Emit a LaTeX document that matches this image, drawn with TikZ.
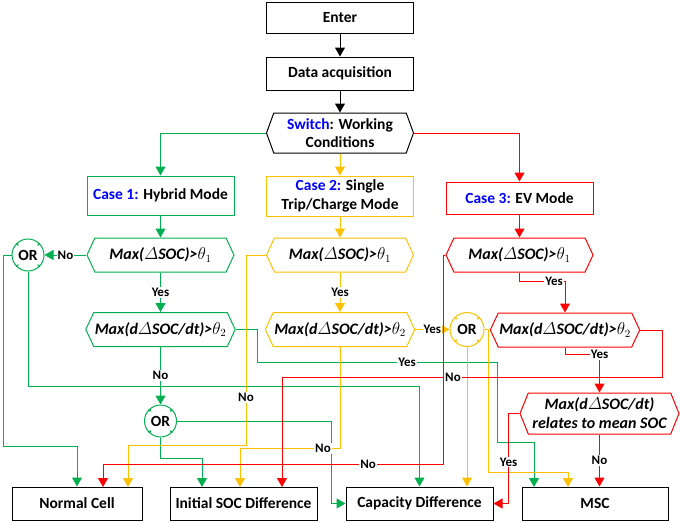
\documentclass[tikz,border=0pt]{standalone}
\usepackage{amsmath}
\usepackage{fontspec}
\setmainfont{Carlito}
\usetikzlibrary{arrows.meta,shapes.symbols,calc}

\definecolor{cgreen}{RGB}{0,176,80}
\definecolor{cyellow}{RGB}{255,192,0}
\definecolor{cred}{RGB}{255,0,0}
\definecolor{cblue}{RGB}{0,0,255}

\tikzset{
	box/.style={draw, line width=1pt, rectangle, minimum width=147pt, minimum height=31pt, inner sep=1pt, align=center, font=\fontsize{15.5}{18.5}\selectfont\bfseries},
	hexa/.style={draw, line width=1pt, signal, signal to=west and east, signal pointer angle=130, minimum width=147pt, minimum height=34pt, inner sep=1pt, align=center, font=\fontsize{16}{19}\selectfont\bfseries\itshape},
	orc/.style={draw, line width=1pt, circle, minimum size=32pt, inner sep=0pt, font=\fontsize{15.5}{18}\selectfont\bfseries},
	lbl/.style={fill=white, text=black, inner sep=1pt, font=\fontsize{13}{15}\selectfont\bfseries},
	arr/.style={line width=1pt, -{Triangle[length=9pt,width=10pt]}},
	bline/.style={arr, black},
	gline/.style={arr, cgreen},
	yline/.style={arr, cyellow},
	rline/.style={arr, cred},
}

\begin{document}
\begin{tikzpicture}[x=1pt, y=-1pt]
	%%%%% START %%%%%
	\useasboundingbox (0,0) rectangle (680,522);
	
	\node[box] (ent) at (340,17.5) {Enter};
	\node[box, minimum height=33pt] (daq) at (340,73.5) {Data acquisition};
	\node[hexa, minimum height=40pt, signal pointer angle=140, font=\fontsize{15.5}{18.5}\selectfont\bfseries] (sw) at (340,133) {\textcolor{cblue}{Switch}: Working\\Conditions};
	
	\node[box, draw=cgreen, minimum height=39pt] (c1) at (160.5,195.5) {\textcolor{cblue}{Case 1:} Hybrid Mode};
	\node[box, draw=cyellow, minimum height=40pt] (c2) at (340,196) {\textcolor{cblue}{Case 2:} Single\\Trip/Charge Mode};
	\node[box, draw=cred, minimum height=32pt] (c3) at (519.5,198) {\textcolor{cblue}{Case 3:} EV Mode};
	
	\node[hexa, draw=cgreen] (g1) at (160.5,255) {Max($\varDelta$SOC)>$\theta_1$};
	\node[hexa, draw=cyellow] (y1) at (340,255) {Max($\varDelta$SOC)>$\theta_1$};
	\node[hexa, draw=cred] (r1) at (519.5,255) {Max($\varDelta$SOC)>$\theta_1$};
	
	\node[hexa, draw=cgreen] (g2) at (160.5,329.5) {Max(d$\varDelta$SOC/dt)>$\theta_2$};
	\node[hexa, draw=cyellow] (y2) at (340,329.5) {Max(d$\varDelta$SOC/dt)>$\theta_2$};
	\node[hexa, draw=cred] (r2) at (565,330) {Max(d$\varDelta$SOC/dt)>$\theta_2$};
	\node[hexa, draw=cred, minimum width=159pt, minimum height=41pt, signal pointer angle=136] (r3) at (599.5,413.5) {Max(d$\varDelta$SOC/dt)\\relates to mean SOC};
	
	\node[orc, draw=cgreen] (or1) at (28,255) {OR};
	\node[orc, draw=cgreen] (or2) at (160.5,421) {OR};
	\node[orc, draw=cyellow, minimum size=34pt] (yor) at (467,329.5) {OR};
	\foreach \n/\c in {or1/cgreen,or2/cgreen,yor/cyellow}
		\foreach \a in {45,135,225,315}
			\draw[\c, line width=0.6pt, -{Triangle[length=2.5pt,width=2.5pt]}] (\n.\a) -- ($(\n.center)!0.8!(\n.\a)$);
	
	\node[box, minimum width=130pt, minimum height=33pt] (nc) at (77,503.5) {Normal Cell};
	\node[box, minimum height=33pt] (isd) at (243.5,503.5) {Initial SOC Difference};
	\node[box, minimum height=33pt] (cd) at (419.5,503.5) {Capacity Difference};
	\node[box, minimum width=146pt, minimum height=33pt] (msc) at (595,503.5) {MSC};
	
	\coordinate (nc-r) at (103,487);
	\coordinate (nc-y) at (128,487);
	\coordinate (isd-g) at (202,487);
	\coordinate (isd-y) at (240,487);
	\coordinate (isd-r) at (282,487);
	\coordinate (msc-g) at (534,487);
	\coordinate (msc-y) at (568,487);
	
	% main flow
	\draw[bline] (ent.south) -- (daq.north);
	\draw[bline] (daq.south) -- (sw.north);
	\draw[gline] (sw.west) -| (c1.north);
	\draw[yline] (sw.south) -- (c2.north);
	\draw[rline] (sw.east) -| (c3.north);
	
	% case 1
	\draw[gline] (c1.south) -- (g1.north);
	\draw[gline] (g1.west) -- node[lbl]{No} (or1.east);
	\draw[gline] (g1.south) -- node[lbl]{Yes} (g2.north);
	\draw[gline] (or1.west) -| (3,446) -| (nc.north);
	\draw[gline] (or1.south) |- (419.5,386.5) -- (cd.north);
	\draw[gline] (g2.south) -- node[lbl]{No} (or2.north);
	\draw[gline] (g2.east) -| (257,362) -- node[lbl,pos=.625]{Yes} (497,362) |- (534,442) -- (msc-g);
	\draw[gline] (or2.east) -| ($(cd.west)+(-14,0)$) -- (cd.west);
	\draw[gline] (or2.south) -- ++(0,21) -| (isd-g);
	
	% case 2
	\draw[yline] (c2.south) -- (y1.north);
	\draw[yline] (y1.south) -- node[lbl]{Yes} (y2.north);
	\draw[yline] (y1.west) -| node[lbl,pos=.875]{No} (246,445) -| (nc-y);
	\draw[yline] (y2.south) -- (340,448.5) -- node[lbl,pos=.17]{No} (240,448.5) -- (isd-y);
	\draw[yline] (y2.east) -- node[lbl]{Yes} (yor.west);
	\draw[yline] (yor.south) -- (yor.south |- cd.north);
	\draw[yline] (yor.east) -| (488,472) -| (msc-y);
	
	% case 3
	\draw[rline] (c3.south) -- (r1.north);
	\draw[rline] (r1.south) -- ++(0,9) -| node[lbl,pos=.38]{Yes} (r2.north);
	\draw[rline] (r2.south) -- ++(0,7) -| node[lbl,pos=.5]{Yes} (r3.north);
	\draw[rline] (r2.east) -| (662,377) -- node[lbl,pos=.55]{No} (282,377) -- (isd-r);
	\draw[rline] (r1.west) -| (443,464) -- node[lbl,pos=.22]{No} (103,464) -- (nc-r);
	\draw[rline] (r3.west) -| node[lbl,pos=.77]{Yes} ($(cd.east)+(15,0)$) -- (cd.east);
	\draw[rline] (r3.south) -- node[lbl]{No} (r3.south |- msc.north);
	
	%%%%% END %%%%%
\end{tikzpicture}
\end{document}
